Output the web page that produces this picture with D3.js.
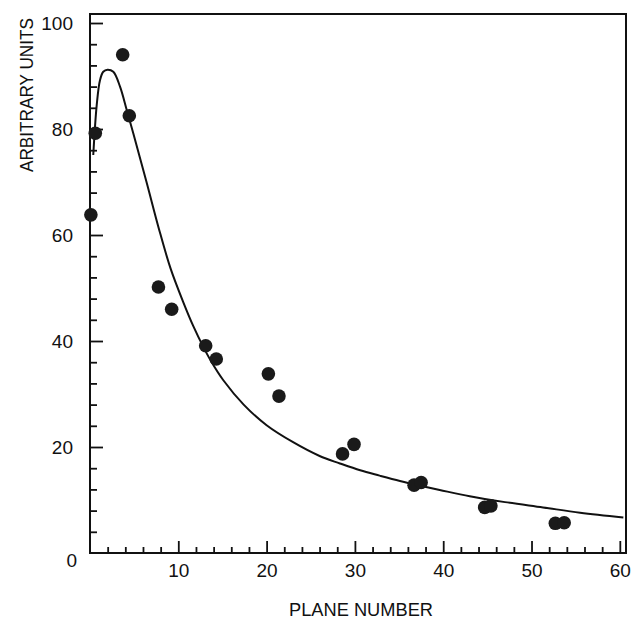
<!DOCTYPE html>
<html>
<head>
<meta charset="utf-8">
<script src="https://cdn.jsdelivr.net/npm/d3@7"></script>
<style>
  html, body { margin: 0; padding: 0; background: #fff; }
  svg { display: block; }
  text { font-family: "Liberation Sans", Arial, Helvetica, sans-serif; fill: #111; }
</style>
</head>
<body>
<svg id="chart" width="631" height="623"></svg>
<script>
// Measured points: plane number vs. signal
const planeNumber = [0.1, 0.6, 3.7, 4.45, 7.75, 9.25, 13.1, 14.3, 20.2, 21.4,
                     28.6, 29.9, 36.7, 37.5, 44.7, 45.4, 52.7, 53.7];
const signal      = [63.8, 79.2, 94.0, 82.5, 50.2, 46.0, 39.1, 36.6, 33.8, 29.6,
                     18.7, 20.5, 12.8, 13.3, 8.6, 8.9, 5.6, 5.7];

// Fitted curve, sampled along the plane axis
const fitPlane  = [0.37, 0.76, 1.13, 1.5, 1.98, 2.64, 3.4, 4.16, 4.9, 6.4, 7.8,
                   9.14, 10.57, 11.7, 12.83, 13.78, 15.1, 17.4, 20.0, 23.0, 26.0,
                   28.3, 30.6, 32.8, 35.1, 37.4, 39.6, 43.0, 47.0, 51.3, 55.5, 60.4];
const fitSignal = [75.1, 84.5, 89.2, 90.8, 91.2, 90.8, 88.0, 83.6, 79.2, 70.0, 61.2,
                   53.6, 47.3, 42.8, 38.9, 36.0, 32.6, 28.0, 24.1, 20.9, 18.3,
                   16.9, 15.6, 14.6, 13.6, 12.7, 11.9, 10.7, 9.6, 8.6, 7.6, 6.7];

// Axis ticks
const xMajorTicks = [10, 20, 30, 40, 50, 60];
const xMinorTicks = [2, 4, 6, 8, 12, 14, 16, 18, 22, 24, 26, 28, 32, 34, 36, 38,
                     42, 44, 46, 48, 52, 54, 56, 58];
const yMajorTicks = [0, 20, 40, 60, 80, 100];
const yMinorTicks = [4, 8, 12, 16, 24, 28, 32, 36, 44, 48, 52, 56, 64, 68, 72, 76,
                     84, 88, 92, 96];

const xTitle = "PLANE NUMBER";
const yTitle = "ARBITRARY UNITS";

const svg = d3.select("#chart");

const plotLeft = 90, plotRight = 626, plotTop = 14, plotBottom = 553;

const x = d3.scaleLinear().domain([0, 60.7]).range([plotLeft, plotRight]);
const y = d3.scaleLinear().domain([0, 101.7]).range([plotBottom, plotTop]);

// Frame
svg.append("rect")
  .attr("x", plotLeft).attr("y", plotTop)
  .attr("width", plotRight - plotLeft).attr("height", plotBottom - plotTop)
  .attr("fill", "none").attr("stroke", "#111").attr("stroke-width", 2);

function styleAxis(g) {
  g.select(".domain").remove();
  g.selectAll(".tick line").attr("stroke", "#111").attr("stroke-width", 1.8);
}

// Bottom axis: inward ticks
svg.append("g")
  .attr("transform", `translate(0,${plotBottom})`)
  .call(d3.axisBottom(x).tickValues(xMinorTicks).tickSize(-6).tickFormat(""))
  .call(styleAxis);

const xMajor = svg.append("g")
  .attr("transform", `translate(0,${plotBottom})`)
  .call(d3.axisBottom(x).tickValues(xMajorTicks).tickSize(-12).tickPadding(0).tickFormat(d3.format("d")))
  .call(styleAxis);
xMajor.selectAll(".tick text")
  .attr("y", 24).attr("dy", 0)
  .attr("font-size", 19)
  .attr("font-family", "Liberation Sans, Arial, sans-serif")
  .attr("fill", "#111");

// Left axis: inward ticks
svg.append("g")
  .attr("transform", `translate(${plotLeft},0)`)
  .call(d3.axisLeft(y).tickValues(yMinorTicks).tickSize(-7).tickFormat(""))
  .call(styleAxis);

const yMajor = svg.append("g")
  .attr("transform", `translate(${plotLeft},0)`)
  .call(d3.axisLeft(y).tickValues(yMajorTicks).tickSize(-13).tickFormat(d3.format("d")))
  .call(styleAxis);
yMajor.selectAll(".tick text")
  .attr("x", -17).attr("dy", "0.36em")
  .attr("font-size", 19)
  .attr("font-family", "Liberation Sans, Arial, sans-serif")
  .attr("fill", "#111");
// the zero tick sits in the corner: keep only its label, set a little lower
const zeroTick = yMajor.selectAll(".tick").filter(d => d === 0);
zeroTick.select("line").remove();
zeroTick.select("text").attr("x", -13).attr("dy", "0.72em");

// Fitted curve
const line = d3.line()
  .x((d, i) => x(fitPlane[i]))
  .y((d, i) => y(fitSignal[i]))
  .curve(d3.curveCatmullRom.alpha(0.5));

svg.append("path")
  .attr("d", line(fitPlane))
  .attr("fill", "none")
  .attr("stroke", "#111")
  .attr("stroke-width", 2);

// Measured points
svg.append("g").selectAll("circle")
  .data(planeNumber)
  .join("circle")
  .attr("cx", (d) => x(d))
  .attr("cy", (d, i) => y(signal[i]))
  .attr("r", 6.8)
  .attr("fill", "#1a1a1a");

// Axis titles
svg.append("text")
  .attr("x", 361).attr("y", 616)
  .attr("text-anchor", "middle")
  .attr("font-size", 18)
  .attr("textLength", 144).attr("lengthAdjust", "spacingAndGlyphs")
  .text(xTitle);

svg.append("text")
  .attr("transform", "translate(33,95) rotate(-90)")
  .attr("text-anchor", "middle")
  .attr("font-size", 18)
  .attr("textLength", 154).attr("lengthAdjust", "spacingAndGlyphs")
  .text(yTitle);
</script>
</body>
</html>
